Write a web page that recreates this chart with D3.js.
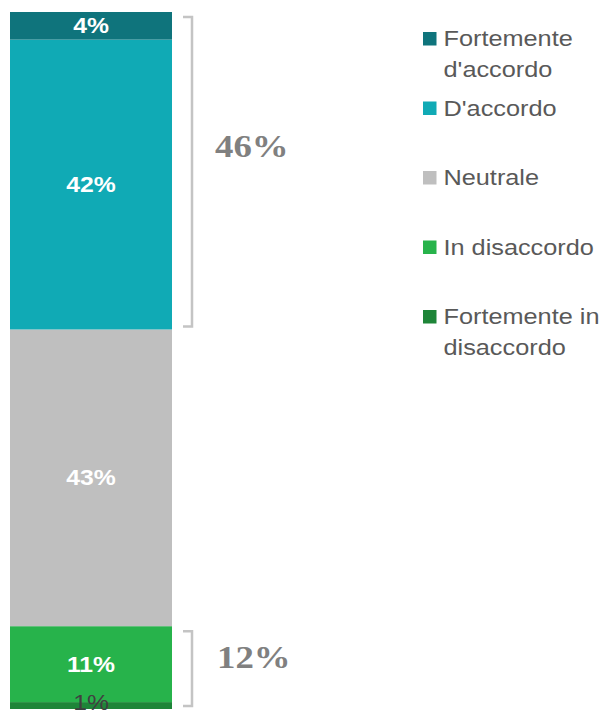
<!DOCTYPE html>
<html>
<head>
<meta charset="utf-8">
<script src="https://cdn.jsdelivr.net/npm/d3@7"></script>
<style>
  html, body { margin: 0; padding: 0; background: #ffffff; }
  svg { display: block; }
</style>
</head>
<body>
<div id="chart"></div>
<script>
// Response categories, stacked from the bottom of the bar upwards
const categories = ["Fortemente in disaccordo", "In disaccordo", "Neutrale", "D'accordo", "Fortemente d'accordo"];
const values = [1, 11, 43, 42, 4];
const colors = ["#1e8538", "#27b34b", "#bfbfbf", "#10aab5", "#0f747c"];

// Legend order (top to bottom) with line breaks
const legendOrder = ["Fortemente d'accordo", "D'accordo", "Neutrale", "In disaccordo", "Fortemente in disaccordo"];
const legendLines = [["Fortemente", "d'accordo"], ["D'accordo"], ["Neutrale"], ["In disaccordo"], ["Fortemente in", "disaccordo"]];

// Grouped totals shown beside the bar
const groups = [
  { label: "46%", members: ["D'accordo", "Fortemente d'accordo"] },
  { label: "12%", members: ["Fortemente in disaccordo", "In disaccordo"] }
];

const W = 609, H = 715;
const SX = 1.15; // horizontal text stretch

const svg = d3.select("#chart").append("svg")
  .attr("width", W).attr("height", H);

// Stack layout
const row = {};
categories.forEach((c, i) => row[c] = values[i]);
const stack = d3.stack().keys(categories)([row]);
const total = d3.sum(values);

const y = d3.scaleLinear().domain([0, total]).range([709, 12]);
const x = d3.scaleBand().domain(["all"]).range([10, 172]).padding(0);

const color = d3.scaleOrdinal().domain(categories).range(colors);

// Segments
svg.append("g").selectAll("rect")
  .data(stack).join("rect")
  .attr("x", x("all"))
  .attr("width", x.bandwidth())
  .attr("y", d => y(d[0][1]))
  .attr("height", d => y(d[0][0]) - y(d[0][1]))
  .attr("fill", d => color(d.key));

// Value labels on top of all segments; the thin bottom segment gets a dark label kept inside the page
svg.append("g").selectAll("text")
  .data(stack).join("text")
  .attr("transform", d => {
    const small = (d[0][1] - d[0][0]) < 2;
    const cx = x("all") + x.bandwidth() / 2;
    const mid = (y(d[0][0]) + y(d[0][1])) / 2 + 7.5;
    const cy = small ? Math.min(mid, H - 5) : mid;
    return `translate(${cx},${cy}) scale(${SX},1)`;
  })
  .attr("text-anchor", "middle")
  .attr("font-family", "'Liberation Sans', Arial, sans-serif")
  .attr("font-size", 21.5)
  .attr("font-weight", d => (d[0][1] - d[0][0]) < 2 ? "normal" : "bold")
  .attr("fill", d => (d[0][1] - d[0][0]) < 2 ? "#404040" : "#ffffff")
  .text(d => (d[0][1] - d[0][0]) + "%");

// Brackets with grouped totals
const bx0 = 183, bx1 = 192;
const labelY = { "46%": 157, "12%": 668 };
groups.forEach(g => {
  const layers = stack.filter(s => g.members.includes(s.key));
  const top = y(d3.max(layers, s => s[0][1])) + 5;
  const bot = y(d3.min(layers, s => s[0][0])) - 3;
  svg.append("path")
    .attr("d", `M${bx0},${top}H${bx1}V${bot}H${bx0}`)
    .attr("fill", "none")
    .attr("stroke", "#c4c4c4")
    .attr("stroke-width", 2.5);
  svg.append("text")
    .attr("transform", `translate(${g.label === "46%" ? 215 : 217},${labelY[g.label]}) scale(${SX},1)`)
    .attr("font-family", "'Liberation Serif', Georgia, serif")
    .attr("font-weight", "bold")
    .attr("font-size", 32)
    .attr("fill", "#808080")
    .text(g.label);
});

// Legend
const legend = svg.append("g");
legendOrder.forEach((name, i) => {
  const base = 46 + i * 69.5;
  legend.append("rect")
    .attr("x", 423).attr("y", base - 14)
    .attr("width", 13.5).attr("height", 13.5)
    .attr("fill", color(name));
  legendLines[i].forEach((line, j) => {
    legend.append("text")
      .attr("transform", `translate(443.5,${base + j * 31}) scale(${SX},1)`)
      .attr("font-family", "'Liberation Sans', Arial, sans-serif")
      .attr("font-size", 22)
      .attr("fill", "#595959")
      .text(line);
  });
});
</script>
</body>
</html>
